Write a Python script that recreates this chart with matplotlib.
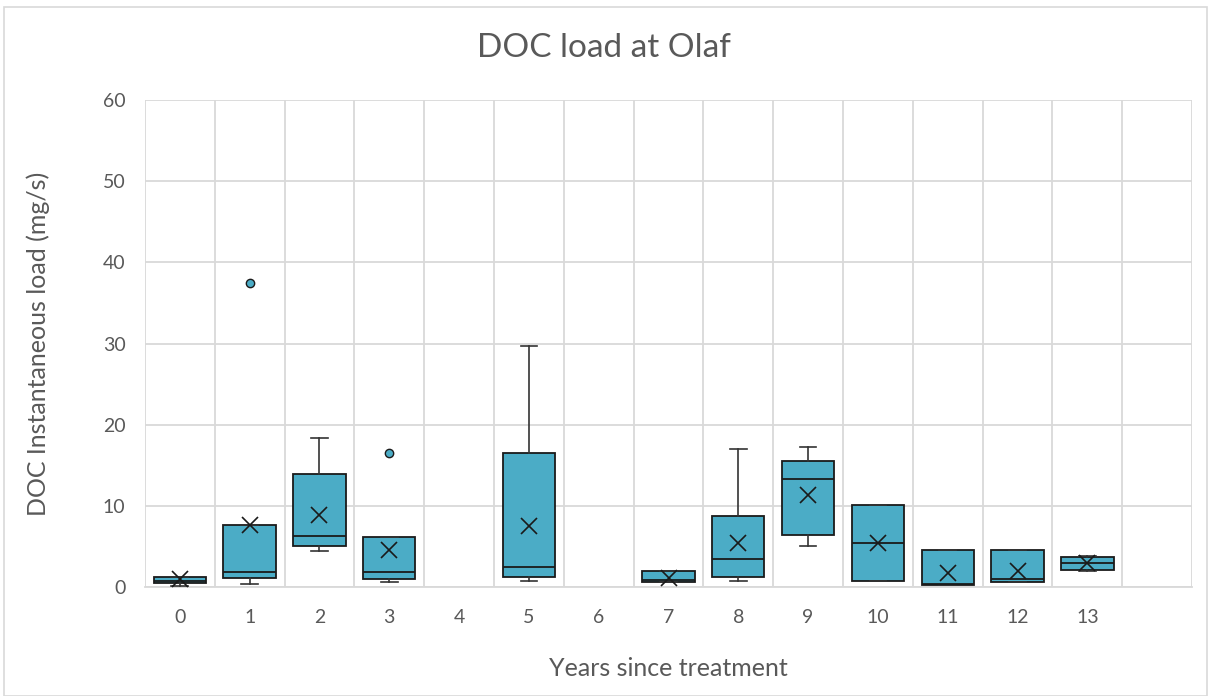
import matplotlib.pyplot as plt
import numpy as np
from matplotlib.patches import Rectangle

# values (years since treatment, DOC load mg/s)
years = [0, 1, 2, 3, 5, 7, 8, 9, 10, 11, 12, 13]
q1 = [0.5, 1.15, 5.1, 1.0, 1.2, 0.65, 1.27, 6.4, 0.8, 0.2, 0.65, 2.1]
med = [0.8, 1.9, 6.3, 1.9, 2.5, 0.9, 3.5, 13.3, 5.4, 0.4, 0.95, 2.95]
q3 = [1.2, 7.6, 13.9, 6.1, 16.5, 2.0, 8.7, 15.5, 10.1, 4.6, 4.5, 3.7]
whislo = [0.1, 0.35, 4.4, 0.65, 0.8, 0.65, 0.7, 5.1, 0.8, 0.2, 0.65, 2.0]
whishi = [1.2, 7.6, 18.3, 6.1, 29.7, 2.0, 17.0, 17.3, 10.1, 4.6, 4.5, 3.8]
means = [1.0, 7.7, 8.9, 4.6, 7.5, 1.1, 5.4, 11.3, 5.4, 1.7, 2.0, 2.9]
fliers = [[], [37.4], [], [16.5], [], [], [], [], [], [], [], []]
tick_labels = [str(i) for i in range(14)]

box_color = "#4BACC6"
grid_color = "#D9D9D9"
text_color = "#595959"
plt.rcParams["font.family"] = ["Lato", "DejaVu Sans"]

stats = []
for i in range(len(years)):
    stats.append(dict(q1=q1[i], med=med[i], q3=q3[i], whislo=whislo[i],
                      whishi=whishi[i], mean=means[i], fliers=fliers[i]))

fig = plt.figure(figsize=(12.08, 6.96), dpi=100)
ax = fig.add_axes([0.12, 0.1566, 0.8668, 0.6997])

ax.bxp(stats, positions=years, widths=0.75, capwidths=0.24,
       patch_artist=True, showmeans=True, zorder=3,
       boxprops=dict(facecolor=box_color, edgecolor="#1a1a1a", linewidth=1.3),
       medianprops=dict(color="#1a1a1a", linewidth=1.3),
       whiskerprops=dict(color="#333333", linewidth=1.2),
       capprops=dict(color="#333333", linewidth=1.2),
       meanprops=dict(marker="x", markeredgecolor="#1a1a1a", markersize=11,
                      markeredgewidth=1.2),
       flierprops=dict(marker="o", markerfacecolor=box_color,
                       markeredgecolor="#1a1a1a", markersize=6))

ax.set_xlim(-0.5, 14.5)
ax.set_ylim(0, 60)
ax.set_yticks(np.arange(0, 61, 10))
ax.set_xticks(range(14))
ax.set_xticklabels(tick_labels)
ax.set_xticks(np.arange(-0.5, 15, 1), minor=True)
ax.grid(axis="y", which="major", color=grid_color, linewidth=1.3, zorder=0)
ax.grid(axis="x", which="minor", color=grid_color, linewidth=1.3, zorder=0)
ax.grid(axis="x", which="major", visible=False)
ax.tick_params(axis="both", which="both", length=0, labelsize=14,
               labelcolor=text_color)
ax.tick_params(axis="x", pad=16)
ax.tick_params(axis="y", pad=14)
for side in ["top", "right", "left"]:
    ax.spines[side].set_visible(False)
ax.spines["bottom"].set_color(grid_color)
ax.spines["bottom"].set_linewidth(1.3)

fig.text(0.5, 1 - 48 / 696, "DOC load at Olaf", fontsize=24, color=text_color,
         ha="center", va="center")
ax.set_xlabel("Years since treatment", fontsize=18, color=text_color, labelpad=22)
ax.set_ylabel("DOC Instantaneous load (mg/s)", fontsize=18, color=text_color, labelpad=38)

fig.patches.append(Rectangle((0.003, 0.0), 0.996, 0.99, transform=fig.transFigure,
                             fill=False, edgecolor=grid_color, linewidth=1.2))

fig.savefig("out.png", dpi=100)
